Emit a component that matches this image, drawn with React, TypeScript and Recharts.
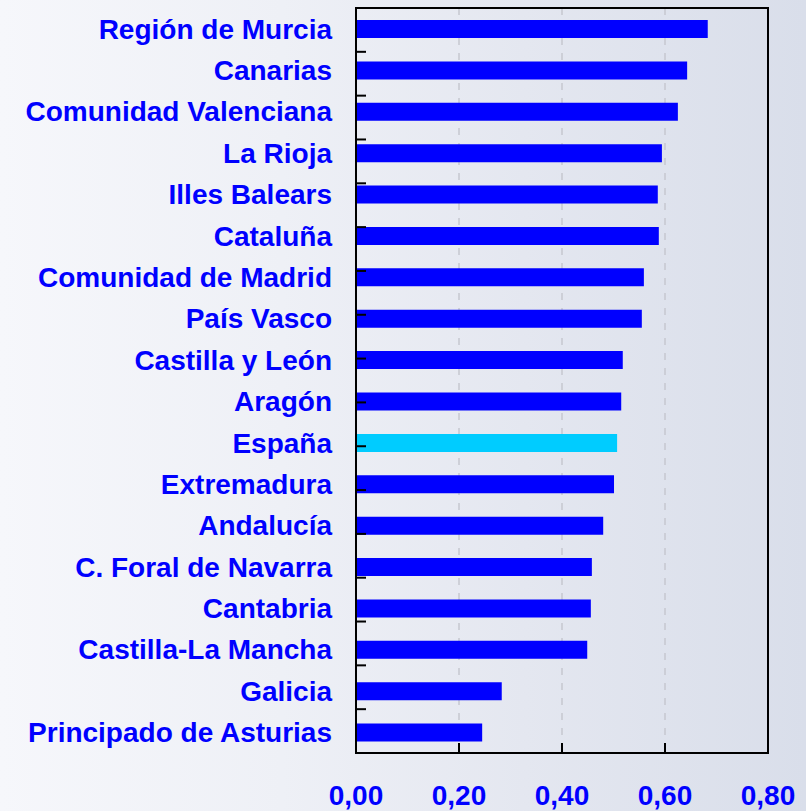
import {
  BarChart,
  Bar,
  XAxis,
  YAxis,
  CartesianGrid,
  ReferenceArea,
  Cell,
} from "recharts";

const regions = [
  "Región de Murcia",
  "Canarias",
  "Comunidad Valenciana",
  "La Rioja",
  "Illes Balears",
  "Cataluña",
  "Comunidad de Madrid",
  "País Vasco",
  "Castilla y León",
  "Aragón",
  "España",
  "Extremadura",
  "Andalucía",
  "C. Foral de Navarra",
  "Cantabria",
  "Castilla-La Mancha",
  "Galicia",
  "Principado de Asturias",
];

const values = [
  0.683, 0.643, 0.625, 0.594, 0.586, 0.588, 0.559, 0.555, 0.518, 0.515,
  0.507, 0.501, 0.48, 0.458, 0.456, 0.449, 0.283, 0.245,
];

const xTicks = [0, 0.2, 0.4, 0.6, 0.8];
// tick marks sit on the boundaries between categories
const boundaryTicks = [1, 2, 3, 4, 5, 6, 7, 8, 9, 10, 11, 12, 13, 14, 15, 16, 17];

const BAR_COLOR = "#0000FF";
const HIGHLIGHT = "#00CCFF";
const TEXT = "#0000FF";
const FONT = "'Liberation Sans', Arial, sans-serif";

const data = regions.map((name, i) => ({ name, value: values[i] }));

const fmt = (v: number) => v.toFixed(2).replace(".", ",");

export default function App() {
  return (
    <div
      style={{
        position: "absolute",
        left: 0,
        top: 0,
        width: 806,
        height: 811,
        background:
          "linear-gradient(to right, #f6f7fb 0%, #eef0f6 35%, #e4e7f0 65%, #d9deea 100%)",
        fontFamily: FONT,
      }}
    >
      <BarChart
        width={806}
        height={811}
        data={data}
        layout="vertical"
        margin={{ top: 8, right: 38, bottom: 0, left: 0 }}
      >
        <CartesianGrid
          xAxisId="x"
          yAxisId="cat"
          horizontal={false}
          stroke="#c6c8d0"
          strokeWidth={1.5}
          strokeDasharray="7 8"
        />
        <XAxis
          xAxisId="x"
          type="number"
          domain={[0, 0.8]}
          ticks={xTicks}
          tickFormatter={fmt}
          tickSize={-10}
          tickMargin={42}
          axisLine={{ stroke: "#000", strokeWidth: 2 }}
          tickLine={{ stroke: "#000", strokeWidth: 2 }}
          tick={{ fill: TEXT, fontSize: 28, fontWeight: 700, fontFamily: FONT }}
          height={58}
        />
        <YAxis
          yAxisId="b"
          type="number"
          domain={[0, 18]}
          allowDataOverflow
          ticks={boundaryTicks}
          orientation="left"
          mirror
          width={20}
          tick={() => <g />}
          axisLine={false}
          tickSize={10}
          tickLine={{ stroke: "#000", strokeWidth: 2 }}
        />
        <YAxis
          yAxisId="cat"
          type="category"
          dataKey="name"
          width={356}
          interval={0}
          tickSize={0}
          tickMargin={24}
          tickLine={false}
          axisLine={{ stroke: "#000", strokeWidth: 2 }}
          tick={{ fill: TEXT, fontSize: 28, fontWeight: 700, fontFamily: FONT }}
        />
        <Bar
          xAxisId="x"
          yAxisId="cat"
          dataKey="value"
          barSize={18}
          isAnimationActive={false}
        >
          {data.map((d, i) => (
            <Cell key={i} fill={d.name === "España" ? HIGHLIGHT : BAR_COLOR} />
          ))}
        </Bar>
        <ReferenceArea
          xAxisId="x"
          yAxisId="cat"
          x1={0}
          x2={0.8}
          fill="none"
          stroke="#000"
          strokeWidth={2}
          ifOverflow="visible"
        />
      </BarChart>
    </div>
  );
}
